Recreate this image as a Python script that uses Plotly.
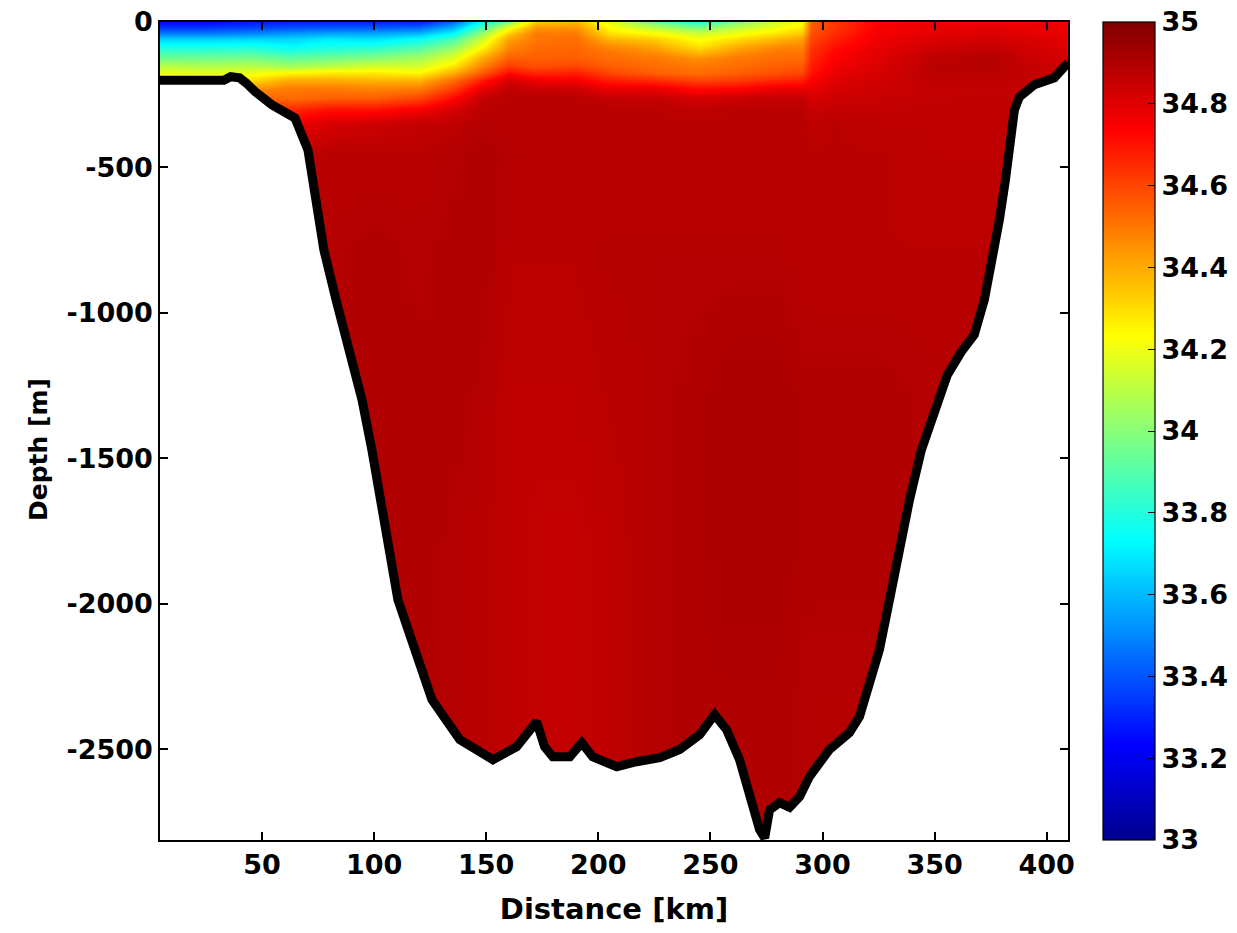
import plotly.graph_objects as go

# Distance of CTD stations [km]
stations_km = [4.5, 25, 45, 62, 80, 100, 120, 135, 148, 160, 172, 190, 205, 225,
               245, 262, 280, 291, 295, 305, 325, 350, 375, 395, 409.5]
# Depth levels [m]
depth_levels = [0, -20, -40, -60, -80, -100, -125, -150, -175, -200, -230, -260,
                -300, -350, -450, -800, -1300, -1800, -2300, -2850]

# Salinity profiles, one per station (values at depth_levels)
salinity_profiles = [
    [33.25, 33.35, 33.5, 33.65, 33.75, 33.85, 33.95, 34.1, 34.2, 34.25, 34.4, 34.5, 34.65, 34.8, 34.87, 34.88, 34.88, 34.88, 34.88, 34.88],
    [33.25, 33.35, 33.5, 33.65, 33.75, 33.85, 33.96, 34.08, 34.18, 34.26, 34.4, 34.5, 34.66, 34.8, 34.87, 34.88, 34.88, 34.88, 34.88, 34.88],
    [33.28, 33.38, 33.52, 33.66, 33.76, 33.86, 33.97, 34.1, 34.2, 34.3, 34.45, 34.55, 34.7, 34.82, 34.88, 34.88, 34.88, 34.88, 34.88, 34.88],
    [33.3, 33.4, 33.55, 33.65, 33.72, 33.8, 33.93, 34.05, 34.25, 34.4, 34.5, 34.52, 34.65, 34.77, 34.87, 34.88, 34.89, 34.89, 34.89, 34.89],
    [33.3, 33.42, 33.58, 33.7, 33.76, 33.84, 33.96, 34.1, 34.28, 34.4, 34.5, 34.55, 34.7, 34.82, 34.88, 34.89, 34.9, 34.9, 34.9, 34.9],
    [33.3, 33.42, 33.58, 33.68, 33.77, 33.88, 34.0, 34.15, 34.28, 34.38, 34.48, 34.55, 34.7, 34.84, 34.88, 34.9, 34.9, 34.9, 34.9, 34.9],
    [33.3, 33.45, 33.62, 33.75, 33.85, 33.95, 34.06, 34.15, 34.25, 34.38, 34.5, 34.6, 34.75, 34.86, 34.88, 34.89, 34.9, 34.9, 34.9, 34.9],
    [33.45, 33.6, 33.75, 33.88, 33.98, 34.08, 34.18, 34.28, 34.4, 34.52, 34.62, 34.72, 34.82, 34.87, 34.89, 34.9, 34.9, 34.89, 34.89, 34.89],
    [33.75, 33.9, 34.05, 34.15, 34.22, 34.3, 34.4, 34.48, 34.56, 34.68, 34.78, 34.86, 34.88, 34.89, 34.9, 34.9, 34.89, 34.88, 34.88, 34.88],
    [34.0, 34.22, 34.35, 34.42, 34.46, 34.5, 34.55, 34.62, 34.72, 34.82, 34.87, 34.88, 34.88, 34.88, 34.89, 34.88, 34.87, 34.87, 34.87, 34.87],
    [34.35, 34.45, 34.5, 34.5, 34.52, 34.53, 34.55, 34.58, 34.66, 34.76, 34.85, 34.88, 34.88, 34.88, 34.88, 34.88, 34.87, 34.86, 34.86, 34.86],
    [34.38, 34.45, 34.5, 34.52, 34.53, 34.54, 34.55, 34.6, 34.68, 34.75, 34.84, 34.88, 34.88, 34.88, 34.88, 34.88, 34.87, 34.86, 34.86, 34.86],
    [34.18, 34.24, 34.3, 34.38, 34.45, 34.5, 34.52, 34.55, 34.6, 34.68, 34.78, 34.86, 34.88, 34.88, 34.88, 34.89, 34.88, 34.87, 34.87, 34.87],
    [33.95, 34.12, 34.25, 34.33, 34.4, 34.45, 34.5, 34.52, 34.55, 34.65, 34.78, 34.86, 34.88, 34.88, 34.88, 34.89, 34.89, 34.89, 34.89, 34.89],
    [33.8, 34.0, 34.15, 34.22, 34.27, 34.35, 34.45, 34.5, 34.52, 34.6, 34.72, 34.82, 34.87, 34.88, 34.88, 34.89, 34.9, 34.9, 34.9, 34.9],
    [34.0, 34.12, 34.22, 34.3, 34.38, 34.44, 34.5, 34.52, 34.55, 34.62, 34.74, 34.85, 34.88, 34.88, 34.88, 34.89, 34.91, 34.91, 34.9, 34.9],
    [34.15, 34.22, 34.3, 34.38, 34.45, 34.5, 34.52, 34.55, 34.58, 34.66, 34.78, 34.86, 34.88, 34.88, 34.88, 34.89, 34.91, 34.91, 34.9, 34.9],
    [34.22, 34.28, 34.35, 34.42, 34.47, 34.5, 34.52, 34.56, 34.6, 34.68, 34.78, 34.86, 34.88, 34.88, 34.88, 34.88, 34.9, 34.9, 34.89, 34.89],
    [34.55, 34.56, 34.58, 34.6, 34.62, 34.64, 34.66, 34.68, 34.7, 34.74, 34.78, 34.82, 34.85, 34.87, 34.88, 34.88, 34.9, 34.9, 34.89, 34.89],
    [34.62, 34.63, 34.65, 34.67, 34.7, 34.72, 34.74, 34.76, 34.78, 34.8, 34.82, 34.84, 34.86, 34.88, 34.88, 34.88, 34.9, 34.9, 34.89, 34.89],
    [34.74, 34.75, 34.76, 34.77, 34.78, 34.79, 34.8, 34.81, 34.82, 34.83, 34.84, 34.85, 34.86, 34.87, 34.88, 34.88, 34.9, 34.9, 34.89, 34.89],
    [34.77, 34.78, 34.79, 34.81, 34.83, 34.85, 34.87, 34.88, 34.88, 34.87, 34.86, 34.86, 34.87, 34.87, 34.87, 34.88, 34.89, 34.89, 34.89, 34.89],
    [34.77, 34.79, 34.81, 34.83, 34.85, 34.87, 34.89, 34.89, 34.88, 34.87, 34.86, 34.87, 34.87, 34.87, 34.87, 34.88, 34.88, 34.88, 34.88, 34.88],
    [34.77, 34.78, 34.79, 34.81, 34.82, 34.83, 34.84, 34.85, 34.86, 34.86, 34.86, 34.86, 34.86, 34.86, 34.86, 34.86, 34.86, 34.86, 34.86, 34.86],
    [34.76, 34.77, 34.78, 34.79, 34.8, 34.81, 34.82, 34.83, 34.84, 34.85, 34.85, 34.85, 34.85, 34.85, 34.85, 34.85, 34.85, 34.85, 34.85, 34.85],
]

# Bottom topography
bathy_km = [4.5, 33, 36, 40, 43, 47, 54.5, 60, 64.7, 70.5, 74, 77.6, 83, 89.2, 94.6, 99, 103, 107,
            110.6, 118.2, 125.8, 138.2, 153, 163.6, 172.5, 176, 179.7, 187.3, 192.6, 197.5, 208.2,
            217.1, 227.4, 236.3, 245.2, 251.9, 257.2, 263, 267.5, 271.9, 274.2, 276.4, 280.8, 285.3,
            289.8, 294.2, 303.1, 312, 316.5, 321, 324, 325.4, 329.9, 334.3, 338.8, 344.1, 349.9,
            355.7, 361.9, 367.7, 372.2, 375.8, 378.9, 381.6, 384.2, 385.6, 387.8, 394.5, 403.4, 409.5]
bathy_depth = [-200, -200, -188, -192, -210, -240, -285, -305, -330, -440, -612, -784, -955, -1127,
               -1299, -1471, -1643, -1814, -1986, -2158, -2330, -2467, -2536, -2491, -2405, -2491,
               -2526, -2526, -2478, -2526, -2560, -2543, -2529, -2501, -2450, -2381, -2433, -2536,
               -2649, -2776, -2805, -2708, -2684, -2700, -2663, -2594, -2501, -2443, -2388, -2271,
               -2192, -2158, -1986, -1814, -1643, -1471, -1333, -1213, -1134, -1075, -955, -818,
               -680, -543, -405, -302, -258, -216, -192, -140]

x_ticks = [50, 100, 150, 200, 250, 300, 350, 400]
x_labels = ["50", "100", "150", "200", "250", "300", "350", "400"]
y_ticks = [0, -500, -1000, -1500, -2000, -2500]
y_labels = ["0", "-500", "-1000", "-1500", "-2000", "-2500"]
cbar_ticks = [33, 33.2, 33.4, 33.6, 33.8, 34, 34.2, 34.4, 34.6, 34.8, 35]
cbar_labels = ["33", "33.2", "33.4", "33.6", "33.8", "34", "34.2", "34.4", "34.6", "34.8", "35"]

x_range = [4.5, 409.5]
y_range = [-2812, 0]

# grid: rows = depth (ascending), cols = stations
y_sorted = depth_levels[::-1]
z = [[salinity_profiles[j][i] for j in range(len(stations_km))] for i in range(len(depth_levels))][::-1]

jet = [[0.0, "rgb(0,0,143)"], [0.117, "rgb(0,0,255)"], [0.367, "rgb(0,255,255)"],
       [0.617, "rgb(255,255,0)"], [0.867, "rgb(255,0,0)"], [1.0, "rgb(128,0,0)"]]

FONT = "DejaVu Sans"

fig = go.Figure()
fig.add_trace(go.Heatmap(
    x=stations_km, y=y_sorted, z=z, zsmooth="best",
    zmin=33, zmax=35, colorscale=jet,
    colorbar=dict(
        x=(1103 - 160) / 908, xanchor="left", y=0.5, yanchor="middle", len=1.0,
        thickness=52, thicknessmode="pixels", outlinewidth=1.2, outlinecolor="black",
        tickvals=cbar_ticks, ticktext=cbar_labels, ticks="inside", ticklen=7,
        tickcolor="black", tickfont=dict(family=FONT, size=27, color="black", weight="bold"),
        xpad=0, ypad=0,
    ),
    hoverinfo="skip",
))
# white area below the sea floor
fig.add_trace(go.Scatter(
    x=bathy_km + [x_range[1], x_range[0]],
    y=bathy_depth + [-3000, -3000],
    fill="toself", fillcolor="white", mode="lines", line=dict(width=0, color="white"),
    hoverinfo="skip", showlegend=False,
))
fig.add_trace(go.Scatter(
    x=bathy_km, y=bathy_depth, mode="lines",
    line=dict(color="black", width=9), hoverinfo="skip", showlegend=False,
))

axis_common = dict(
    showline=True, linecolor="black", linewidth=1.5, mirror="ticks",
    ticks="inside", ticklen=8, tickcolor="black", tickwidth=1.5,
    showgrid=False, zeroline=False,
    tickfont=dict(family=FONT, size=27, color="black", weight="bold"),
)
fig.update_layout(
    width=1237, height=933,
    margin=dict(l=160, r=169, t=22, b=93, autoexpand=False),
    paper_bgcolor="white", plot_bgcolor="white",
    showlegend=False,
    xaxis=dict(range=x_range, tickvals=x_ticks, ticktext=x_labels,
               title=dict(text="Distance [km]", standoff=20,
                          font=dict(family=FONT, size=29, color="black", weight="bold")),
               **axis_common),
    yaxis=dict(range=y_range, tickvals=y_ticks, ticktext=y_labels, **axis_common),
    annotations=[dict(
        text="Depth [m]", textangle=-90, showarrow=False,
        xref="paper", yref="paper", x=(38 - 160) / 908, y=(840 - 450) / 818,
        xanchor="center", yanchor="middle",
        font=dict(family=FONT, size=25, color="black", weight="bold"),
    )],
)
fig.write_html("out.html")
